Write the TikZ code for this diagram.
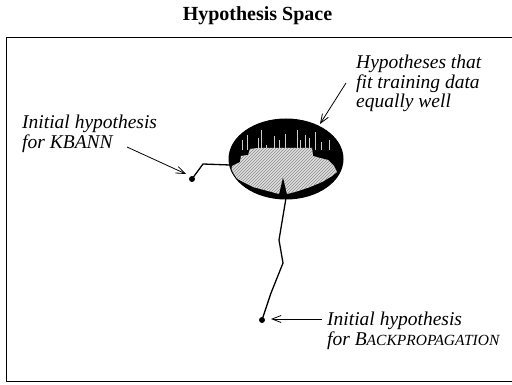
\documentclass[tikz,border=0pt]{standalone}
\usepackage{fontspec}
\setmainfont{Liberation Serif}
\usetikzlibrary{arrows.meta,patterns,shapes.geometric}
\begin{document}
\begin{tikzpicture}[x=1pt,y=-1pt,
  lbl/.style={font=\fontsize{19.5}{19.5}\selectfont\itshape, align=left, inner sep=0pt, anchor=north west},
  walk/.style={line width=1.3pt, line join=round},
  arr/.style={line width=0.8pt, -{Straight Barb[length=9pt,width=7pt,line width=0.8pt]}},
  hdot/.style={circle, fill=black, inner sep=0pt, minimum size=6pt},
  region/.style={fill=gray!25, postaction={pattern=north east lines, pattern color=gray!90}}]
\useasboundingbox (0,0) rectangle (512,385);
% frame
\draw[line width=1pt] (530,38) -- (6,38) -- (6,381) -- (530,381);
% title
\node[font=\fontsize{20}{20}\selectfont\bfseries] (title) at (257.5,16) {Hypothesis Space};
% hypothesis region
\begin{scope}
  \clip (286,159) ellipse [x radius=57, y radius=40];
  \fill[black] (286,159) ellipse [x radius=57, y radius=40];
  \foreach \x/\t in {238/150,242/140,247/135,258/138,261/130,266/145,274/136,279/140,285/134,297/130,300/140,305/135,309/138,315/132,321/142,329/140,334/150}
    \draw[gray!40, line width=0.8pt] (\x,\t) -- (\x,150);
  \path[region] (232,166) -- (240,162) -- (241,156) -- (248,155) -- (250,149) -- (258,148) -- (312,148) -- (313,156) -- (320,158) -- (328,160) -- (334,166) -- (337,172) -- (332,176) -- (322,182) -- (310,187) -- (295,192) -- (287,194) -- (283,177) -- (279,194) -- (268,191) -- (253,187) -- (243,182) -- (236,178) -- (231,172) -- cycle;
\end{scope}
\node[ellipse, draw, line width=1pt, minimum width=114pt, minimum height=80pt, inner sep=0pt] (hs) at (286,159) {};
% start points
\node[hdot] (kdot) at (192,179) {};
\node[hdot] (bdot) at (262,320) {};
\coordinate (kend) at (230,165);
\coordinate (bstart) at (286,198);
% search paths
\draw[walk] (kdot.center) -- (203,164) -- (kend);
\draw[walk] (bstart) -- (279,240) -- (283,263) -- (271,293) -- (bdot.center);
% labels
\node[lbl] (klbl) at (22,115) {Initial hypothesis\\for KBANN};
\node[lbl] (blbl) at (327,312) {Initial hypothesis\\for B{\fontsize{15.5}{15.5}\selectfont ACKPROPAGATION}};
\node[lbl] (hlbl) at (356,55) {Hypotheses that\\fit training data\\equally well};
% pointers
\coordinate (ka) at (127,147);
\coordinate (kb) at (186,174);
\coordinate (ha) at (346,83);
\coordinate (hb) at (320,124);
\coordinate (ba) at (322,319);
\coordinate (bb) at (271,319);
\draw[arr] (ka) -- (kb);
\draw[arr] (ha) -- (hb);
\draw[arr] (ba) -- (bb);
\end{tikzpicture}
\end{document}
